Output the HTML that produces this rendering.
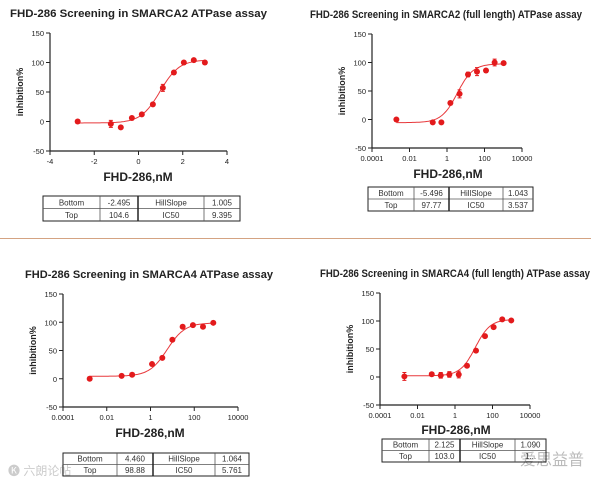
<!DOCTYPE html>
<html><head><meta charset="utf-8"><style>
body{margin:0;background:#fff;width:602px;height:484px;overflow:hidden;font-family:"Liberation Sans",Arial,sans-serif}
svg text{font-family:"Liberation Sans",Arial,sans-serif}
</style></head><body>
<svg id="svg" width="602" height="484" viewBox="0 0 602 484" xmlns="http://www.w3.org/2000/svg">
<line x1="0" y1="238.5" x2="591" y2="238.5" stroke="#d4a382" stroke-width="1"/>
<text x="8" y="475" font-size="12" fill="#ccc" font-family="'Liberation Sans','Noto Sans CJK SC',sans-serif">🅚 六朗论帖</text>
<text x="520" y="465" font-size="16" fill="#bbb" font-family="'Liberation Sans','Noto Sans CJK SC',sans-serif">爱思益普</text>
</svg>
<script>
// Panel 1: SMARCA2 (x in log units)
const p1X=[-2.75,-1.25,-0.8,-0.3,0.15,0.65,1.1,1.6,2.05,2.5,3.0];
const p1Y=[0,-4,-10,6,12,29,57,83,100,104,100];
const p1Err=[3,6,2,2,2,2,6,2,2,2,2];
const p1Fit=[-2.495,104.6,9.395,1.005];
// Panel 2: SMARCA2 full length
const p2X=[-2.7,-0.76,-0.3,0.18,0.67,1.12,1.6,2.08,2.54,3.02];
const p2Y=[0,-5,-5,29,45,79,84,86,100,99];
const p2Err=[2,2,2,3,7,4,7,2,6,2];
const p2Fit=[-5.496,97.77,3.537,1.043];
// Panel 3: SMARCA4
const p3X=[-2.78,-1.32,-0.84,0.07,0.54,1.0,1.47,1.94,2.4,2.87];
const p3Y=[0,5,7,26,37,69,92,95,92,99];
const p3Err=[2,2,2,2,2,2,2,2,2,2];
const p3Fit=[4.46,98.88,5.761,1.064];
// Panel 4: SMARCA4 full length
const p4X=[-2.7,-1.24,-0.76,-0.3,0.2,0.64,1.12,1.6,2.06,2.52,3.0];
const p4Y=[1,5,3,4.5,4.5,20,47,73,89,103,101];
const p4Err=[7,3,5,5,6,2,3,2,2,2,2];
const p4Fit=[2.125,103.0,12.0,1.09];
const yTicks=[-50,0,50,100,150];
const linTicks=["-4","-2","0","2","4"];
const logTicks=["0.0001","0.01","1","100","10000"];
const tickPos=[-4,-2,0,2,4];
const tables=[["-2.495","104.6","1.005","9.395"],["-5.496","97.77","1.043","3.537"],["4.460","98.88","1.064","5.761"],["2.125","103.0","1.090","1..."]];

const NS="http://www.w3.org/2000/svg";
const svg=document.getElementById('svg');
function mk(t,a,p){const e=document.createElementNS(NS,t);for(const k in a)e.setAttribute(k,a[k]);(p||svg).appendChild(e);return e;}

const panels=[
 {X:p1X,Y:p1Y,E:p1Err,F:p1Fit,ticks:linTicks,ax:50,ax2:227,y150:33,yn50:151,title:"FHD-286 Screening in SMARCA2 ATPase assay",tx:10,ty:17,xt:138,xty:181,tb:[43,196,240,221,100,138,204]},
 {X:p2X,Y:p2Y,E:p2Err,F:p2Fit,ticks:logTicks,ax:372,ax2:522,y150:34,yn50:148,title:"FHD-286 Screening in SMARCA2 (full length) ATPase assay",tx:310,ty:18,xt:448,xty:178,tb:[368,187,533,211,414,449,503]},
 {X:p3X,Y:p3Y,E:p3Err,F:p3Fit,ticks:logTicks,ax:63,ax2:238,y150:294,yn50:407,title:"FHD-286 Screening in SMARCA4 ATPase assay",tx:25,ty:278,xt:150,xty:437,tb:[63,453,249,476,117,153,215]},
 {X:p4X,Y:p4Y,E:p4Err,F:p4Fit,ticks:logTicks,ax:380,ax2:530,y150:293,yn50:405,title:"FHD-286 Screening in SMARCA4 (full length) ATPase assay",tx:320,ty:277,xt:456,xty:434,tb:[382,439,546,462,429,460,515]}
];

panels.forEach((P,i)=>{
 const g=mk('g',{});
 
 
 const sx=v=>P.ax+(v+4)/8*(P.ax2-P.ax);
 const sy=v=>P.yn50-(v+50)/200*(P.yn50-P.y150);
 const t=mk('text',{x:P.tx,y:P.ty,'font-size':11,'font-weight':'bold',fill:'#222',textLength:P.tx<300?(i==0?257:248):(i==1?272:270),lengthAdjust:'spacingAndGlyphs'},g);
 t.textContent=P.title;
 
 
 // axes
 const ya=mk('line',{x1:P.ax,y1:P.y150,x2:P.ax,y2:P.yn50,stroke:'#222','stroke-width':1.2},g);
 
 
 const xa=mk('line',{x1:P.ax,y1:P.yn50,x2:P.ax2,y2:P.yn50,stroke:'#222','stroke-width':1.2},g);
 
 
 yTicks.forEach(v=>{
  mk('line',{x1:P.ax-4,y1:sy(v),x2:P.ax,y2:sy(v),stroke:'#222'},g);
  const tt=mk('text',{x:P.ax-6,y:sy(v)+3,'font-size':7.5,'text-anchor':'end',fill:'#222'},g);
  tt.textContent=v;
  
  
 });
 tickPos.forEach((v,k)=>{
  mk('line',{x1:sx(v),y1:P.yn50,x2:sx(v),y2:P.yn50+4,stroke:'#222'},g);
  const tt=mk('text',{x:sx(v),y:P.yn50+13,'font-size':7.5,'text-anchor':'middle',fill:'#222'},g);
  tt.textContent=P.ticks[k];
  
  
 });
 const yl=mk('text',{x:0,y:0,'font-size':9,'font-weight':'bold','text-anchor':'middle',fill:'#222',transform:`translate(${P.ax-27},${(P.y150+P.yn50)/2}) rotate(-90)`},g);
 yl.textContent='inhibition%';
 
 
 const xl=mk('text',{x:P.xt,y:P.xty,'font-size':12,'font-weight':'bold','text-anchor':'middle',fill:'#222'},g);
 xl.textContent='FHD-286,nM';
 
 
 // curve
 const [b,tp,ic,h]=P.F;const lic=Math.log10(ic);
 let d='';
 for(let k=0;k<=80;k++){const x=P.X[0]+(P.X[P.X.length-1]-P.X[0])*k/80;const y=b+(tp-b)/(1+Math.pow(10,(lic-x)*h));d+=(k?'L':'M')+sx(x).toFixed(1)+','+sy(y).toFixed(1);}
 const c=mk('path',{d,fill:'none',stroke:'#e8383b','stroke-width':1},g);
 
 
 P.X.forEach((x,k)=>{
  const e=P.E[k];
  const eb=mk('path',{d:`M${sx(x)},${sy(P.Y[k]+e)}V${sy(P.Y[k]-e)}M${sx(x)-2},${sy(P.Y[k]+e)}h4M${sx(x)-2},${sy(P.Y[k]-e)}h4`,stroke:'#e31a1c','stroke-width':1,fill:'none'},g);
  
  
  const pt=mk('circle',{cx:sx(x),cy:sy(P.Y[k]),r:3,fill:'#e31a1c'},g);
  
  
 });
 // table
 const [x1,y1,x2,y2,d1,d2,d3]=P.tb;const ym=(y1+y2)/2;
 const tg=mk('g',{},g);
 
 
 mk('rect',{x:x1,y:y1,width:x2-x1,height:y2-y1,fill:'none',stroke:'#222','stroke-width':1},tg);
 mk('line',{x1:x1,y1:ym,x2:x2,y2:ym,stroke:'#555','stroke-width':0.8},tg);
 [d1,d3].forEach(xx=>mk('line',{x1:xx,y1:y1,x2:xx,y2:y2,stroke:'#555','stroke-width':0.8},tg));
 mk('line',{x1:d2,y1:y1,x2:d2,y2:y2,stroke:'#222','stroke-width':1.5},tg);
 const T=tables[i];
 const cells=[["Bottom",(x1+d1)/2,ym-3],["Top",(x1+d1)/2,y2-3],[T[0],(d1+d2)/2,ym-3],[T[1],(d1+d2)/2,y2-3],["HillSlope",(d2+d3)/2,ym-3],["IC50",(d2+d3)/2,y2-3],[T[2],(d3+x2)/2,ym-3],[T[3],(d3+x2)/2,y2-3]];
 cells.forEach(cc=>{const tt=mk('text',{x:cc[1],y:cc[2],'font-size':8,'text-anchor':'middle',fill:'#333'},tg);tt.textContent=cc[0];
  
  });
});
</script>
</body></html>
